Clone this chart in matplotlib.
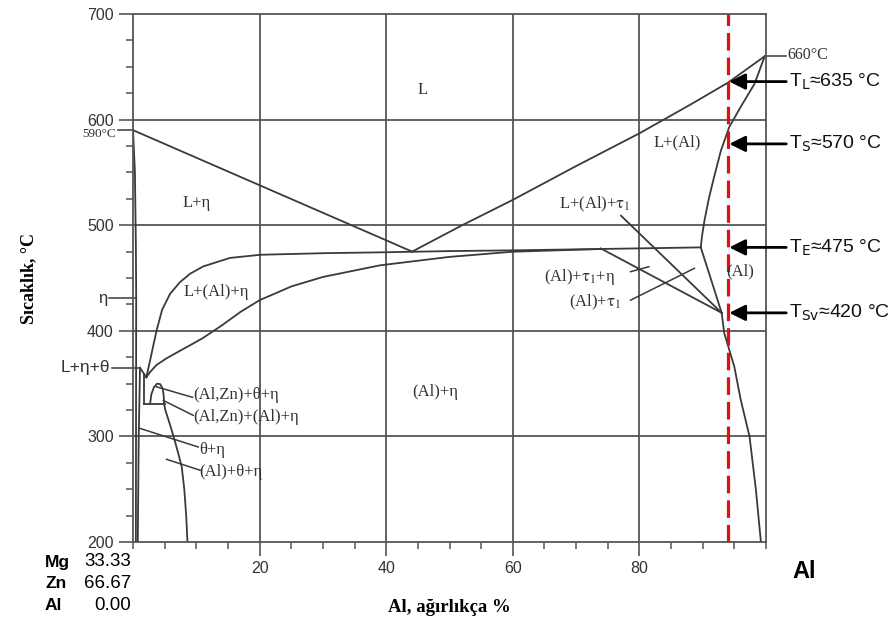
import matplotlib.pyplot as plt
from matplotlib.ticker import MultipleLocator, FixedLocator

SERIF = ['Liberation Serif', 'DejaVu Serif']
SANS = ['Liberation Sans', 'DejaVu Sans']
LC = '#3a3a3a'

# faz sınırları: x = Al ağırlıkça %, y = sıcaklık (°C)
liq_zn_x = [0, 44.1]
liq_zn_y = [590, 475]
liq_al_x = [44.1, 52, 60, 70, 80, 88, 94, 99.8]
liq_al_y = [475, 500, 524, 556, 587, 614, 635, 660]
sol_al_x = [99.8, 98.2, 96.0, 94.2, 92.9, 91.9, 91.0, 90.3, 89.9, 89.7]
sol_al_y = [660, 634, 612, 593, 571, 548, 526, 505, 490, 479]
eta_x = [0, 0.3, 0.45, 0.5, 0.45]
eta_y = [590, 550, 480, 430, 200]
left2_x = [1.1, 0.9, 0.75]
left2_y = [365, 300, 200]
up_x = [2.1, 2.7, 3.2, 3.75, 4.6, 5.85, 7.4, 9, 11.1, 15.3, 20.1, 30, 39, 50, 60, 74, 89.7]
up_y = [356, 372, 386, 401, 420, 435, 446, 454, 461, 469, 472, 473.5, 474.3, 475.5, 476.2, 477.5, 479]
low_x = [2.1, 2.7, 3.7, 5.3, 8, 11, 14, 17, 20, 25, 30, 39, 50, 60, 74]
low_y = [356, 361, 367.6, 374, 383, 393, 405, 418, 429, 442, 451, 462, 470, 474.9, 477.5]
ab_x = [1.1, 2.1]
ab_y = [365, 356]
vert_x = [1.8, 1.8]
vert_y = [359, 331]
hor_x = [1.8, 5.0]
hor_y = [331, 331]
arch_x = [2.7, 2.9, 3.3, 3.8, 4.3, 4.7, 4.85, 4.9]
arch_y = [331, 340, 346.5, 350, 349.5, 345, 338, 331]
theta_x = [4.9, 5.1, 5.8, 6.4, 7.1, 7.7, 8.1, 8.4, 8.6]
theta_y = [331, 325, 312, 300, 285, 271, 250, 225, 200]
tau_a_x = [73.9, 93.0]
tau_a_y = [478, 417]
tau_b_x = [77.1, 93.0]
tau_b_y = [509, 417]
tau_c_x = [89.7, 93.0]
tau_c_y = [479, 417]
solv_x = [93.0, 93.4, 95.0, 96.0, 97.4, 98.4, 99.2]
solv_y = [417, 398, 366, 335, 300, 250, 200]

alloy_x = 94
arrows_y = [636, 577, 479, 417]
arrows_txt = [r'T$_\mathrm{L}$≈635 °C', r'T$_\mathrm{S}$≈570 °C',
              r'T$_\mathrm{E}$≈475 °C', r'T$_\mathrm{Sv}$≈420 °C']

fig = plt.figure(figsize=(8.94, 6.28), dpi=100)
ax = fig.add_axes([0.1488, 0.1369, 0.708, 0.8408])
ax.set_xlim(0, 100)
ax.set_ylim(200, 700)

for gx in [20, 40, 60, 80]:
    ax.axvline(gx, color='#555555', lw=1.3, zorder=1)
for gy in [300, 400, 500, 600]:
    ax.axhline(gy, color='#555555', lw=1.3, zorder=1)

lines = [(liq_zn_x, liq_zn_y), (liq_al_x, liq_al_y), (sol_al_x, sol_al_y),
         (eta_x, eta_y), (left2_x, left2_y), (up_x, up_y), (low_x, low_y),
         (ab_x, ab_y), (vert_x, vert_y), (hor_x, hor_y), (arch_x, arch_y),
         (theta_x, theta_y), (tau_a_x, tau_a_y), (tau_b_x, tau_b_y),
         (tau_c_x, tau_c_y), (solv_x, solv_y)]
for xs, ys in lines:
    ax.plot(xs, ys, color=LC, lw=1.3, zorder=2)

ax.axvline(alloy_x, color='#e01010', lw=2.3, dashes=(5.5, 2.2), zorder=4)

for sp in ax.spines.values():
    sp.set_color('#555555')
    sp.set_linewidth(1.3)

ax.xaxis.set_major_locator(FixedLocator([20, 40, 60, 80]))
ax.xaxis.set_minor_locator(MultipleLocator(5))
ax.yaxis.set_major_locator(MultipleLocator(100))
ax.yaxis.set_minor_locator(MultipleLocator(25))
ax.tick_params(which='major', length=10, width=1.2, color='#555555',
               labelsize=11.5, labelcolor='#333333', pad=4)
ax.tick_params(which='minor', length=5, width=1.1, color='#555555')
for lab in ax.get_xticklabels() + ax.get_yticklabels():
    lab.set_family(SANS)

# bölge etiketleri
regions = [
    ('L', 45.7, 628), ('L+η', 10.1, 521), ('L+(Al)+η', 13.1, 437),
    ('(Al)+η', 47.8, 342), ('L+(Al)', 86, 578), (r'L+(Al)+$\mathrm{\tau}_1$', 73, 520),
    (r'(Al)+$\mathrm{\tau}_1$+η', 70.6, 451), (r'(Al)+$\mathrm{\tau}_1$', 73, 427),
    ('(Al)', 96, 456),
]
for t, x, y in regions:
    ax.text(x, y, t, family=SERIF, fontsize=12, color='#333333',
            ha='center', va='center', zorder=5, math_fontfamily='stix')

small = [('(Al,Zn)+θ+η', 9.5, 339), ('(Al,Zn)+(Al)+η', 9.5, 318),
         ('θ+η', 10.5, 287), ('(Al)+θ+η', 10.5, 266.5)]
for t, x, y in small:
    ax.text(x, y, t, family=SERIF, fontsize=12, color='#333333',
            ha='left', va='center', zorder=5)

leaders = [([9.4, 3.7], [337, 347]), ([9.5, 4.8], [320, 334]),
           ([10.3, 1.1], [290, 307.6]), ([10.6, 5.3], [268, 278.3]),
           ([78.6, 81.5], [456, 460.7]), ([78.6, 88.7], [429, 459.2])]
for xs, ys in leaders:
    ax.plot(xs, ys, color=LC, lw=1.1, zorder=2)

# eksen dışı etiketler
ax.plot([-2.4, 0], [590, 590], color=LC, lw=1.1, clip_on=False)
ax.text(-2.7, 586, '590°C', family=SERIF, fontsize=9.5, color='#333333',
        ha='right', va='center')
ax.plot([-3.8, 0.3], [431, 431], color=LC, lw=1.1, clip_on=False)
ax.text(-4.1, 431, 'η', family=SANS, fontsize=12, color='#333333',
        ha='right', va='center')
ax.plot([-3.4, 1.1], [365, 365], color=LC, lw=1.1, clip_on=False)
ax.text(-3.6, 365, 'L+η+θ', family=SANS, fontsize=12.5, color='#333333',
        ha='right', va='center')
ax.plot([99.8, 103.2], [660, 660], color=LC, lw=1.1, clip_on=False)
ax.text(103.4, 661, '660°C', family=SERIF, fontsize=11.5, color='#333333',
        ha='left', va='center')

for y, t in zip(arrows_y, arrows_txt):
    ax.annotate('', xy=(alloy_x + 0.2, y), xytext=(103.2, y),
                arrowprops=dict(arrowstyle='-|>', lw=2, color='black',
                                mutation_scale=24, shrinkA=0, shrinkB=0),
                annotation_clip=False, zorder=6)
    ax.text(103.7, y, t, family=SANS, fontsize=14, color='#111111',
            ha='left', va='center', math_fontfamily='dejavusans')

ax.set_ylabel('Sıcaklık, °C', family=SERIF, fontsize=13, fontweight='bold',
              labelpad=36)
ax.set_xlabel('Al, ağırlıkça %', family=SERIF, fontsize=13.5, fontweight='bold',
              labelpad=16)

comp = [('Mg', '33.33', 562), ('Zn', '66.67', 584), ('Al', '0.00', 605)]
for el, val, py in comp:
    fig.text(45 / 894, 1 - py / 628, el, family=SANS, fontsize=12.5,
             fontweight='bold', ha='left', va='center')
    fig.text(131 / 894, 1 - py / 628, val, family=SANS, fontsize=13.5,
             ha='right', va='center')
fig.text(804 / 894, 1 - 572 / 628, 'Al', family=SANS, fontsize=17,
         fontweight='bold', ha='center', va='center')

fig.savefig('out.png', dpi=100)
